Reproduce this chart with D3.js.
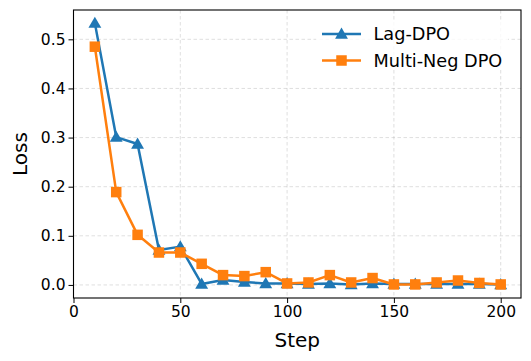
<!DOCTYPE html>
<html>
<head>
<meta charset="utf-8">
<script src="https://cdn.jsdelivr.net/npm/d3@7"></script>
<style>
  body { margin: 0; background: #fff; }
  svg { font-family: "DejaVu Sans", sans-serif; }
</style>
</head>
<body>
<svg width="531" height="361"></svg>
<script>
// data
const steps = [10, 20, 30, 40, 50, 60, 70, 80, 90, 100, 110, 120, 130, 140, 150, 160, 170, 180, 190, 200];
const lagDpo = [0.533, 0.301, 0.287, 0.071, 0.078, 0.002, 0.010, 0.006, 0.003, 0.003,
                0.002, 0.003, 0.001, 0.003, 0.002, 0.002, 0.002, 0.002, 0.002, 0.001];
const multiNeg = [0.485, 0.189, 0.102, 0.066, 0.066, 0.043, 0.020, 0.018, 0.026, 0.003,
                  0.005, 0.020, 0.005, 0.014, 0.001, 0.001, 0.005, 0.009, 0.004, 0.001];
const xTicks = [0, 50, 100, 150, 200];
const yTicks = [0.0, 0.1, 0.2, 0.3, 0.4, 0.5];
const seriesNames = ["Lag-DPO", "Multi-Neg DPO"];
const seriesColors = ["#1f77b4", "#ff7f0e"];

// plot area
const mLeft = 73.5, mRight = 521, mTop = 10, mBottom = 298;

const svg = d3.select("svg");

const x = d3.scaleLinear().domain([0, 209.5]).range([mLeft, mRight]);
const y = d3.scaleLinear().domain([-0.0266, 0.5597]).range([mBottom, mTop]);

// grid
const grid = svg.append("g")
    .attr("stroke", "#b0b0b0")
    .attr("stroke-opacity", 0.5)
    .attr("stroke-width", 0.8)
    .attr("stroke-dasharray", "3.5,2.5");
grid.selectAll(".gx").data(xTicks).join("line")
    .attr("x1", d => x(d)).attr("x2", d => x(d))
    .attr("y1", mTop).attr("y2", mBottom);
grid.selectAll(".gy").data(yTicks).join("line")
    .attr("x1", mLeft).attr("x2", mRight)
    .attr("y1", d => y(d)).attr("y2", d => y(d));

// axes
const xAxis = d3.axisBottom(x).tickValues(xTicks).tickFormat(d3.format("d")).tickSizeOuter(0).tickSize(5).tickPadding(3);
const yAxis = d3.axisLeft(y).tickValues(yTicks).tickFormat(d3.format(".1f")).tickSizeOuter(0).tickSize(5).tickPadding(3);

svg.append("g").attr("transform", `translate(0,${mBottom})`).call(xAxis)
    .call(g => g.select(".domain").remove())
    .call(g => g.selectAll("text").attr("font-size", 15.5).attr("fill", "#000").attr("font-family", "DejaVu Sans"))
    .call(g => g.selectAll(".tick line").attr("stroke", "#000").attr("stroke-width", 1));
svg.append("g").attr("transform", `translate(${mLeft},0)`).call(yAxis)
    .call(g => g.select(".domain").remove())
    .call(g => g.selectAll("text").attr("font-size", 15.5).attr("fill", "#000").attr("font-family", "DejaVu Sans"))
    .call(g => g.selectAll(".tick line").attr("stroke", "#000").attr("stroke-width", 1));

// lines + markers
const series = [lagDpo, multiNeg];
const line = d3.line().x((d, i) => x(steps[i])).y(d => y(d));
const tri = d3.symbol().type(d3.symbolTriangle).size(72);
const sq = 10.5;

series.forEach((vals, k) => {
    const g = svg.append("g");
    g.append("path").datum(vals)
        .attr("d", line)
        .attr("fill", "none")
        .attr("stroke", seriesColors[k])
        .attr("stroke-width", 2.5)
        .attr("stroke-linejoin", "round");
    if (k === 0) {
        g.selectAll("path.m").data(vals).join("path")
            .attr("class", "m")
            .attr("d", tri)
            .attr("transform", (d, i) => `translate(${x(steps[i])},${y(d) + 1})`)
            .attr("fill", seriesColors[k]);
    } else {
        g.selectAll("rect").data(vals).join("rect")
            .attr("x", (d, i) => x(steps[i]) - sq / 2)
            .attr("y", d => y(d) - sq / 2)
            .attr("width", sq).attr("height", sq)
            .attr("fill", seriesColors[k]);
    }
});

// frame
svg.append("rect")
    .attr("x", mLeft).attr("y", mTop)
    .attr("width", mRight - mLeft).attr("height", mBottom - mTop)
    .attr("fill", "none").attr("stroke", "#000").attr("stroke-width", 1.1);

// legend
const lg = svg.append("g");
lg.append("rect")
    .attr("x", 316).attr("y", 22).attr("width", 192).attr("height", 48)
    .attr("fill", "#fff").attr("fill-opacity", 0.8);
seriesNames.forEach((name, k) => {
    const cy = 34 + k * 26.5;
    lg.append("line")
        .attr("x1", 322).attr("x2", 361).attr("y1", cy).attr("y2", cy)
        .attr("stroke", seriesColors[k]).attr("stroke-width", 2.5);
    if (k === 0) {
        lg.append("path").attr("d", tri).attr("transform", `translate(341.5,${cy + 1})`).attr("fill", seriesColors[k]);
    } else {
        lg.append("rect").attr("x", 341.5 - sq / 2).attr("y", cy - sq / 2).attr("width", sq).attr("height", sq).attr("fill", seriesColors[k]);
    }
    lg.append("text")
        .attr("x", 373.5).attr("y", cy).attr("dy", "0.35em")
        .attr("font-size", 17.7)
        .text(name);
});

// axis labels
svg.append("text")
    .attr("x", (mLeft + mRight) / 2).attr("y", 347)
    .attr("text-anchor", "middle").attr("font-size", 20)
    .text("Step");
svg.append("text")
    .attr("transform", `translate(27,${(mTop + mBottom) / 2}) rotate(-90)`)
    .attr("text-anchor", "middle").attr("font-size", 20)
    .text("Loss");
</script>
</body>
</html>
